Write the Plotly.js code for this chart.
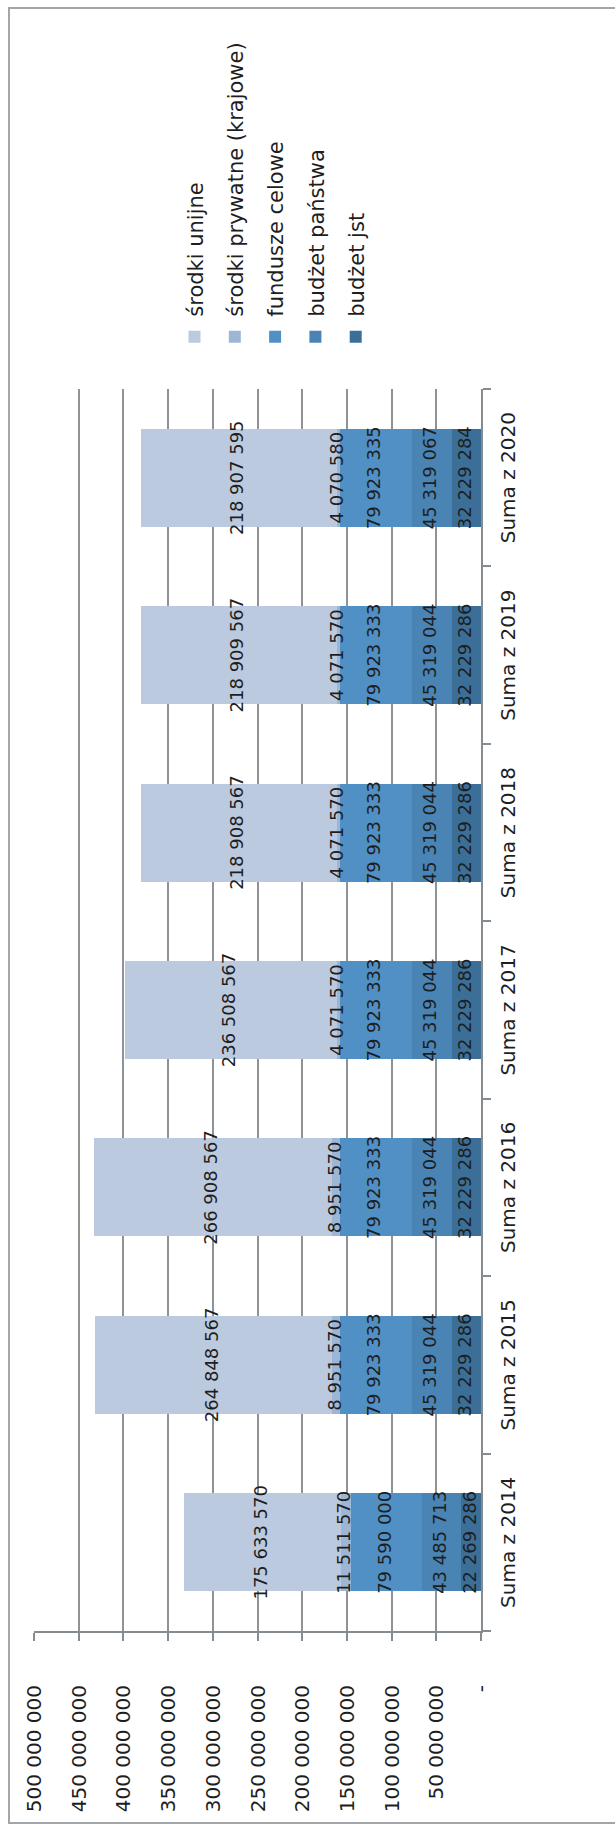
<!DOCTYPE html>
<html>
<head>
<meta charset="utf-8">
<script src="https://cdn.plot.ly/plotly-3.0.1.min.js"></script>
<style>
  html, body { margin: 0; padding: 0; background: #ffffff; }
  #wrap { position: relative; width: 615px; height: 1829px; overflow: hidden; background: #fff; }
  #chart { position: absolute; left: 0; top: 0; width: 1829px; height: 615px;
           transform-origin: 0 0; transform: translateY(1829px) rotate(-90deg); }
  #frame { position: absolute; left: 8px; top: 7px; width: 650px; height: 1817px;
           border: 2px solid #a2a6a9; pointer-events: none; box-sizing: border-box; }
</style>
</head>
<body>
<div id="wrap">
  <div id="chart"></div>
  <div id="frame"></div>
</div>
<script>
const categories = ['Suma z 2014', 'Suma z 2015', 'Suma z 2016', 'Suma z 2017', 'Suma z 2018', 'Suma z 2019', 'Suma z 2020'];
const budzetJst      = [22269286, 32229286, 32229286, 32229286, 32229286, 32229286, 32229284];
const budzetPanstwa  = [43485713, 45319044, 45319044, 45319044, 45319044, 45319044, 45319067];
const funduszeCelowe = [79590000, 79923333, 79923333, 79923333, 79923333, 79923333, 79923335];
const srodkiPrywatne = [11511570, 8951570, 8951570, 4071570, 4071570, 4071570, 4070580];
const srodkiUnijne   = [175633570, 264848567, 266908567, 236508567, 218908567, 218909567, 218907595];
const seriesNames = ['budżet jst', 'budżet państwa', 'fundusze celowe', 'środki prywatne (krajowe)', 'środki unijne'];
const valueTickVals = [0, 50000000, 100000000, 150000000, 200000000, 250000000, 300000000, 350000000, 400000000, 450000000, 500000000];
const valueTickText = ['-', '50 000 000', '100 000 000', '150 000 000', '200 000 000', '250 000 000', '300 000 000', '350 000 000', '400 000 000', '450 000 000', '500 000 000'];

const series = [budzetJst, budzetPanstwa, funduszeCelowe, srodkiPrywatne, srodkiUnijne];
const colors = ['#3b6f98', '#4984b4', '#5190c4', '#9db6d6', '#bccae0'];
const FONT = 'DejaVu Sans';

function fmt(n) { return String(n).replace(/\B(?=(\d{3})+(?!\d))/g, ' '); }

const traces = series.map((vals, i) => ({
  type: 'bar',
  name: seriesNames[i],
  x: categories,
  y: vals,
  marker: { color: colors[i], line: { width: 0 } },
  legendgroup: 'g' + i,
  legendrank: 1000 - i * 100,
  hoverinfo: 'skip',
  textposition: 'none'
}));

// data labels centred in each segment
const lx = [], ly = [], lt = [];
categories.forEach((c, j) => {
  let base = 0;
  series.forEach(vals => {
    lx.push(c); ly.push(base + vals[j] / 2); lt.push(fmt(vals[j]));
    base += vals[j];
  });
});
traces.push({
  type: 'scatter', mode: 'text', x: lx, y: ly, text: lt,
  textposition: 'middle center',
  textfont: { family: FONT, size: 18, color: '#1e1e1e' },
  showlegend: false, hoverinfo: 'skip', cliponaxis: false
});

const layout = {
  width: 1829, height: 615,
  margin: { l: 198, r: 389, t: 34, b: 134 },
  paper_bgcolor: '#ffffff', plot_bgcolor: '#ffffff',
  barmode: 'stack', bargap: 0.448,
  font: { family: FONT, size: 20, color: '#1e1e1e' },
  showlegend: true,
  legend: {
    x: 1.026, xanchor: 'left', y: 0.686, yanchor: 'top',
    traceorder: 'grouped', tracegroupgap: 10,
    font: { family: FONT, size: 21, color: '#1e1e1e' },
    bgcolor: 'rgba(0,0,0,0)'
  },
  xaxis: {
    type: 'category', range: [-0.5, 6.5],
    showline: true, linecolor: '#868b8f', linewidth: 2,
    ticks: 'outside', tickson: 'boundaries', ticklen: 8, tickwidth: 2, tickcolor: '#868b8f',
    showgrid: false, zeroline: false,
    tickfont: { family: FONT, size: 20, color: '#1e1e1e' },
    ticklabelstandoff: 8
  },
  yaxis: {
    range: [0, 500000000],
    tickvals: valueTickVals, ticktext: valueTickText,
    showline: true, linecolor: '#868b8f', linewidth: 2,
    ticks: 'outside', ticklen: 8, tickwidth: 2, tickcolor: '#868b8f',
    showgrid: true, gridcolor: '#8e9398', gridwidth: 2,
    zeroline: false,
    tickfont: { family: FONT, size: 20, color: '#1e1e1e' },
    ticklabelstandoff: 40
  }
};

Plotly.newPlot('chart', traces, layout, { displayModeBar: false, staticPlot: true });
</script>
</body>
</html>
